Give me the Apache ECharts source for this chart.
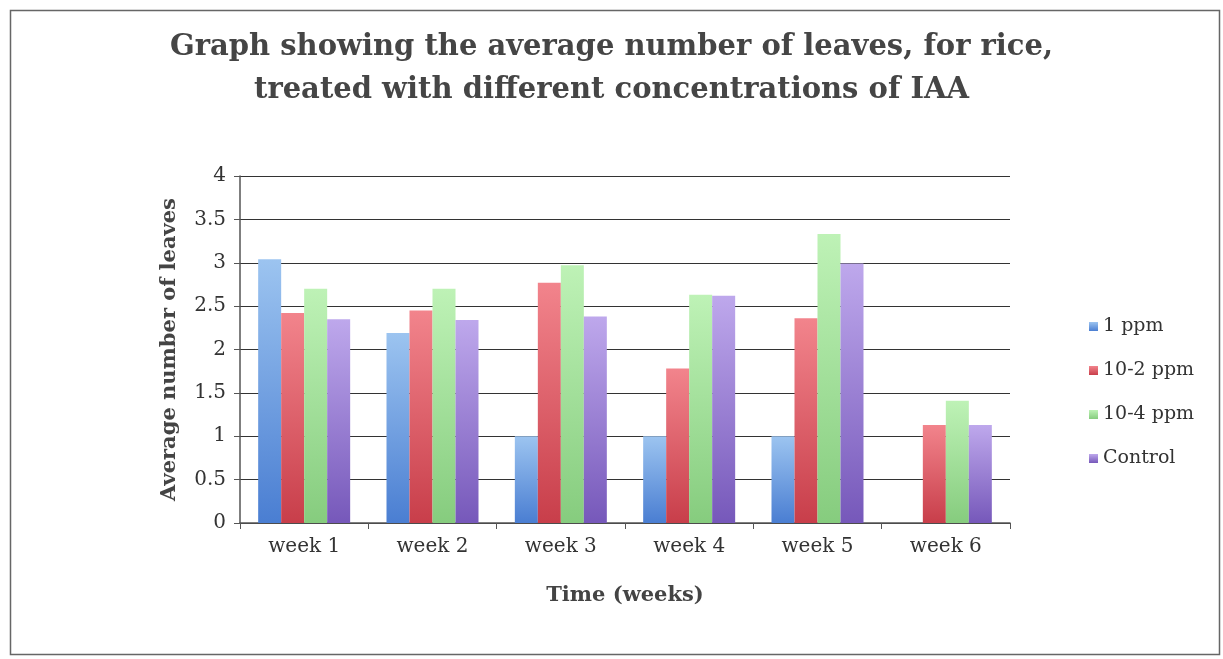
<!DOCTYPE html>
<html>
<head>
<meta charset="utf-8">
<script src="https://cdn.jsdelivr.net/npm/echarts@6/dist/echarts.min.js"></script>
<style>
html,body{margin:0;padding:0;background:#fff;}
#chart{width:1223px;height:659px;}
</style>
</head>
<body>
<div id="chart"></div>
<script>
const categories = ['week 1','week 2','week 3','week 4','week 5','week 6'];
const seriesNames = ['1 ppm','10-2 ppm','10-4 ppm','Control'];
const ppm1 = [3.04, 2.19, 1.0, 1.0, 1.0, null];
const ppm10_2 = [2.42, 2.45, 2.77, 1.78, 2.36, 1.13];
const ppm10_4 = [2.70, 2.70, 2.97, 2.63, 3.33, 1.41];
const control = [2.35, 2.34, 2.38, 2.62, 2.99, 1.13];

function grad(top, bottom){
  return {type:'linear',x:0,y:0,x2:0,y2:1,colorStops:[{offset:0,color:top},{offset:1,color:bottom}]};
}
const colors = [
  grad('#9cc4f0','#4a7ed2'),
  grad('#f2848c','#c83e4a'),
  grad('#bef2b6','#86cc7e'),
  grad('#bea8ec','#7658ba')
];
const dataSets = [ppm1, ppm10_2, ppm10_4, control];
const font = 'DejaVu Serif';

const chart = echarts.init(document.getElementById('chart'));
chart.setOption({
  animation:false,
  backgroundColor:'#fff',
  graphic:[{type:'rect',left:8,top:8,shape:{width:1209,height:644},style:{fill:'none',stroke:'#666',lineWidth:1.5},silent:true}],
  title:{
    text:'Graph showing the average number of leaves, for rice,\ntreated with different concentrations of IAA',
    left:'center', top:21,
    textStyle:{fontFamily:font,fontWeight:'bold',fontSize:29,color:'#454545',lineHeight:43}
  },
  legend:{
    orient:'vertical', left:1084, top:312,
    itemWidth:9, itemHeight:9, itemGap:25, icon:'rect',
    textStyle:{fontFamily:font,fontSize:19,color:'#333'},
    data:seriesNames
  },
  grid:{left:240,right:213,top:176,bottom:136},
  xAxis:{
    type:'category', data:categories,
    name:'Time (weeks)', nameLocation:'middle', nameGap:62,
    nameTextStyle:{fontFamily:font,fontWeight:'bold',fontSize:21,color:'#444'},
    axisLine:{lineStyle:{color:'#555',width:1.5}},
    axisTick:{show:true,alignWithLabel:false,length:6,lineStyle:{color:'#555'}},
    axisLabel:{fontFamily:font,fontSize:20,color:'#333',margin:14}
  },
  yAxis:{
    type:'value', min:0, max:4, interval:0.5,
    name:'Average number of leaves', nameLocation:'middle', nameGap:60,
    nameTextStyle:{fontFamily:font,fontWeight:'bold',fontSize:21,color:'#444'},
    axisLine:{show:true,lineStyle:{color:'#555',width:1.5}},
    axisTick:{show:true,length:6,lineStyle:{color:'#555'}},
    axisLabel:{fontFamily:font,fontSize:20,color:'#333',margin:14},
    splitLine:{lineStyle:{color:'#333',width:1.2}}
  },
  series: seriesNames.map((n,i)=>({
    name:n, type:'bar', data:dataSets[i],
    barWidth:23, barGap:'0%',
    itemStyle:{color:colors[i]}
  }))
});
</script>
</body>
</html>
